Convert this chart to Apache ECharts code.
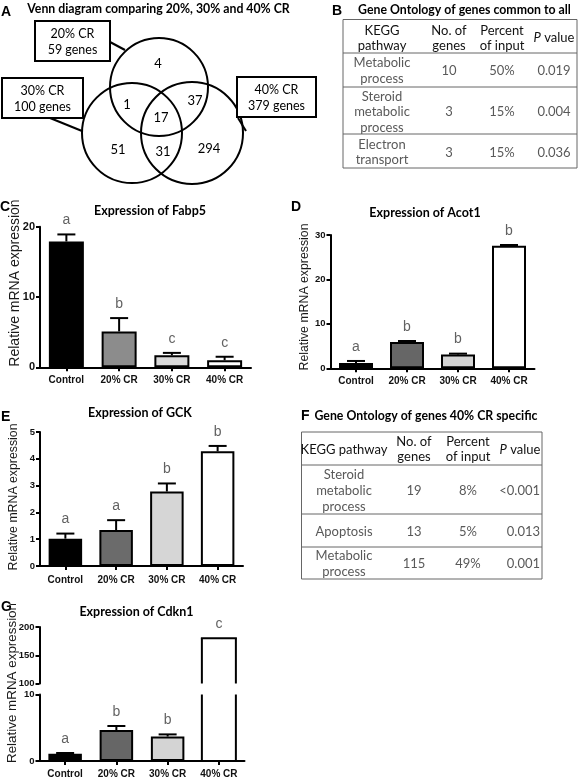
<!DOCTYPE html>
<html><head><meta charset="utf-8">
<script src="https://cdn.jsdelivr.net/npm/echarts@6/dist/echarts.min.js"></script>
<style>html,body{margin:0;padding:0;background:#fff}#c{width:578px;height:779px}</style>
</head><body><div id="c"></div>
<script>
// ---------------- DATA ----------------
const categories = ['Control', '20% CR', '30% CR', '40% CR'];

const fabp5Mean = [17.9, 5.1, 1.7, 1.0];
const fabp5Err = [1.0, 1.9, 0.35, 0.5];
const fabp5Letters = ['a', 'b', 'c', 'c'];

const acot1Mean = [1.2, 5.9, 3.1, 27.6];
const acot1Err = [0.45, 0.25, 0.2, 0.15];
const acot1Letters = ['a', 'b', 'b', 'b'];

const gckMean = [1.02, 1.34, 2.78, 4.28];
const gckErr = [0.19, 0.37, 0.3, 0.2];
const gckLetters = ['a', 'a', 'b', 'b'];

const cdkn1Mean = [1.08, 4.66, 3.68, 180];
const cdkn1Err = [0.12, 0.6, 0.32, 0];
const cdkn1Letters = ['a', 'b', 'b', 'c'];

const vennSetNames = ['20% CR', '30% CR', '40% CR'];
const vennSetTotals = [59, 100, 379];
// regions: only20, 20&30, 20&40, all, only30, 30&40, only40
const vennRegionCounts = [4, 1, 37, 17, 51, 31, 294];

const tableBTitle = 'Gene Ontology of genes common to all';
const tableBHeader = [['KEGG', 'pathway'], ['No. of', 'genes'], ['Percent', 'of input'], ['P value']];
const tableBPathways = [['Metabolic', 'process'], ['Steroid', 'metabolic', 'process'], ['Electron', 'transport']];
const tableBGenes = ['10', '3', '3'];
const tableBPercent = ['50%', '15%', '15%'];
const tableBP = ['0.019', '0.004', '0.036'];

const tableFTitle = 'Gene Ontology of genes 40% CR specific';
const tableFHeader = [['KEGG pathway'], ['No. of', 'genes'], ['Percent', 'of input'], ['P value']];
const tableFPathways = [['Steroid', 'metabolic', 'process'], ['Apoptosis'], ['Metabolic', 'process']];
const tableFGenes = ['19', '13', '115'];
const tableFPercent = ['8%', '5%', '49%'];
const tableFP = ['<0.001', '0.013', '0.001'];

// ---------------- STYLE / LAYOUT ----------------
const AR = 'Liberation Sans';
const CAL = 'Lato';
const colorsC = ['#000000', '#8c8c8c', '#d9d9d9', '#ffffff'];
const colorsD = ['#000000', '#666666', '#d4d4d4', '#ffffff'];
const colorsE = ['#000000', '#6b6b6b', '#d6d6d6', '#ffffff'];
const colorsG = ['#000000', '#666666', '#d4d4d4', '#ffffff'];

const chart = echarts.init(document.getElementById('c'), null, {renderer: 'canvas', width: 578, height: 779});

const grids = [
  {left: 40, top: 226.7, width: 211, height: 140.6},   // C
  {left: 330.5, top: 235, width: 204, height: 133.3},  // D
  {left: 40, top: 432, width: 203, height: 134},       // E
  {left: 39.5, top: 627, width: 205, height: 56.5},    // G upper
  {left: 39.5, top: 694.5, width: 205, height: 68}     // G lower
];

function xAx(gi, margin, show) {
  return {
    type: 'category', gridIndex: gi, data: categories, show: show,
    axisLine: {show: true, onZero: false, lineStyle: {color: '#000', width: 2}},
    axisTick: {show: true, alignWithLabel: true, length: 4, lineStyle: {color: '#000', width: 2}},
    axisLabel: {show: true, margin: margin, fontFamily: AR, fontWeight: 'bold', fontSize: 10, color: '#111'},
    splitLine: {show: false}
  };
}
function yAx(gi, min, max, interval, fs) {
  return {
    type: 'value', gridIndex: gi, min: min, max: max, interval: interval,
    axisLine: {show: true, lineStyle: {color: '#000', width: 2}},
    axisTick: {show: true, length: 4, lineStyle: {color: '#000', width: 2}},
    axisLabel: {margin: 5, fontFamily: AR, fontWeight: 'bold', fontSize: fs, color: '#111'},
    splitLine: {show: false}
  };
}

function barSeries(ai, means, colors, bw) {
  return {
    type: 'bar', xAxisIndex: ai, yAxisIndex: ai, barWidth: bw, silent: true,
    data: means.map((v, i) => (v === null ? '-' : {value: v, itemStyle: {color: colors[i]}})),
    itemStyle: {borderColor: '#000', borderWidth: 2}
  };
}
function errSeries(ai, means, errs, idx) {
  const data = [];
  idx.forEach(i => { if (errs[i] > 0) data.push([i, means[i], errs[i]]); });
  return {
    type: 'custom', xAxisIndex: ai, yAxisIndex: ai, silent: true, z: 3, data: data,
    renderItem: function (params, api) {
      const x = api.value(0), m = api.value(1), s = api.value(2);
      const p0 = api.coord([x, m]), p1 = api.coord([x, m + s]);
      const w = 18, st = {stroke: '#000', lineWidth: 2};
      return {type: 'group', children: [
        {type: 'line', shape: {x1: p0[0], y1: p0[1], x2: p1[0], y2: p1[1]}, style: st},
        {type: 'line', shape: {x1: p1[0] - w / 2, y1: p1[1], x2: p1[0] + w / 2, y2: p1[1]}, style: st}
      ]};
    }
  };
}
function letterSeries(ai, means, errs, letters, idx) {
  return {
    type: 'scatter', xAxisIndex: ai, yAxisIndex: ai, silent: true, z: 4,
    symbol: 'circle', symbolSize: 1, itemStyle: {color: 'rgba(0,0,0,0)'},
    data: idx.map(i => ({value: [i, means[i] + errs[i]], name: letters[i]})),
    label: {show: true, position: 'inside', offset: [0, -14], formatter: p => p.name,
      fontFamily: AR, fontSize: 14, color: '#3a3a3a'}
  };
}
function openBarSeries(ai, means, i, colors, bw) {
  return {
    type: 'custom', xAxisIndex: ai, yAxisIndex: ai, silent: true, z: 2,
    data: [[i, means[i]]],
    renderItem: function (params, api) {
      const cs = params.coordSys;
      const c0 = api.coord([api.value(0), 0]);
      const c1 = api.coord([api.value(0), api.value(1)]);
      const top = Math.max(c1[1], cs.y), bot = Math.min(c0[1], cs.y + cs.height);
      const topOpen = c1[1] < cs.y - 0.5, botOpen = c0[1] > cs.y + cs.height + 0.5;
      const x0 = c0[0] - bw / 2, x1 = c0[0] + bw / 2;
      const st = {stroke: '#000', lineWidth: 2};
      const ch = [{type: 'rect', shape: {x: x0, y: top, width: bw, height: bot - top}, style: {fill: colors[i]}}];
      ch.push({type: 'line', shape: {x1: x0, y1: top, x2: x0, y2: bot}, style: st});
      ch.push({type: 'line', shape: {x1: x1, y1: top, x2: x1, y2: bot}, style: st});
      if (!topOpen) ch.push({type: 'line', shape: {x1: x0 - 1, y1: top, x2: x1 + 1, y2: top}, style: st});
      if (!botOpen) ch.push({type: 'line', shape: {x1: x0 - 1, y1: bot, x2: x1 + 1, y2: bot}, style: st});
      return {type: 'group', children: ch};
    }
  };
}

const all4 = [0, 1, 2, 3];
const low3 = [0, 1, 2];

const series = [
  barSeries(0, fabp5Mean, colorsC, 35), errSeries(0, fabp5Mean, fabp5Err, all4), letterSeries(0, fabp5Mean, fabp5Err, fabp5Letters, all4),
  barSeries(1, acot1Mean, colorsD, 34), errSeries(1, acot1Mean, acot1Err, all4), letterSeries(1, acot1Mean, acot1Err, acot1Letters, all4),
  barSeries(2, gckMean, colorsE, 33.5), errSeries(2, gckMean, gckErr, all4), letterSeries(2, gckMean, gckErr, gckLetters, all4),
  openBarSeries(3, cdkn1Mean, 3, colorsG, 34), letterSeries(3, cdkn1Mean, cdkn1Err, cdkn1Letters, [3]),
  barSeries(4, cdkn1Mean.map((v, i) => i < 3 ? v : null), colorsG, 33.5), openBarSeries(4, cdkn1Mean, 3, colorsG, 34),
  errSeries(4, cdkn1Mean, cdkn1Err, low3), letterSeries(4, cdkn1Mean, cdkn1Err, cdkn1Letters, low3)
];

// ---------------- GRAPHIC (titles, Venn, tables) ----------------
const G = [];
function txt(x, y, text, font, fill, align, extra) {
  const o = {type: 'text', x: x, y: y, silent: true, style: Object.assign({
    text: text, font: font, fill: fill || '#000',
    align: align || 'center', verticalAlign: 'middle',
    textAlign: align || 'center', textVerticalAlign: 'middle'}, extra || {})};
  return o;
}
function ln(x1, y1, x2, y2, stroke, w) {
  return {type: 'line', silent: true, shape: {x1: x1, y1: y1, x2: x2, y2: y2}, style: {stroke: stroke || '#000', lineWidth: w || 1}};
}
function rotTxt(x, y, text, fs) {
  const t = txt(0, 0, text, fs + 'px ' + AR, '#1a1a1a');
  t.x = x; t.y = y; t.rotation = Math.PI / 2;
  return t;
}

// panel letters
const PL = 'bold 14px ' + AR;
G.push(txt(1, 12.5, 'A', PL, '#000', 'left'));
G.push(txt(332, 11, 'B', PL, '#000', 'left'));
G.push(txt(0, 207, 'C', PL, '#000', 'left'));
G.push(txt(291, 207.5, 'D', PL, '#000', 'left'));
G.push(txt(1, 417, 'E', PL, '#000', 'left'));
G.push(txt(301, 416, 'F', PL, '#000', 'left'));
G.push(txt(1, 607, 'G', PL, '#000', 'left'));

// chart titles
const TF = 'bold 12.5px ' + CAL;
G.push(txt(150, 211, 'Expression of Fabp5', TF));
G.push(txt(425, 213, 'Expression of Acot1', TF));
G.push(txt(140, 413, 'Expression of GCK', TF));
G.push(txt(136.5, 612, 'Expression of Cdkn1', TF));

// y-axis names
G.push(rotTxt(15, 283, 'Relative mRNA expression', 14));
G.push(rotTxt(305, 297, 'Relative mRNA expression', 12.3));
G.push(rotTxt(14, 497, 'Relative mRNA expression', 12.3));
G.push(rotTxt(12, 683, 'Relative mRNA expression', 13.4));

// Venn
G.push(txt(158.5, 9.5, 'Venn diagram comparing 20%, 30% and 40% CR', 'bold 12.3px ' + CAL));
const circles = [[159, 87, 49], [132, 133, 50], [192, 133, 51]];
circles.forEach(c => G.push({type: 'circle', silent: true, shape: {cx: c[0], cy: c[1], r: c[2]}, style: {fill: 'none', stroke: '#000', lineWidth: 2}}));
const regionPos = [[158, 64], [127, 105], [195, 101], [161, 118], [118, 150], [163, 152], [209, 149]];
vennRegionCounts.forEach((v, i) => G.push(txt(regionPos[i][0], regionPos[i][1], String(v), '13px ' + CAL, '#000')));
// connectors + boxes
G.push(ln(110, 42, 125, 50, '#000', 2));
G.push(ln(50, 118, 82, 131, '#000', 2));
G.push(ln(238, 118, 246, 131, '#000', 2));
const boxes = [[35, 21, 75, 40], [2, 78, 81, 40], [237, 77, 79, 40]];
boxes.forEach((b, i) => {
  G.push({type: 'rect', silent: true, shape: {x: b[0], y: b[1], width: b[2], height: b[3]}, style: {fill: '#fff', stroke: '#000', lineWidth: 2}});
  G.push(txt(b[0] + b[2] / 2, b[1] + 12.5, vennSetNames[i], '12.5px ' + CAL, '#000'));
  G.push(txt(b[0] + b[2] / 2, b[1] + 28.5, vennSetTotals[i] + ' genes', '12.5px ' + CAL, '#000'));
});

// Table helper
const TBF = '13px ' + CAL;
function pHeader(x, y, align) {
  return {type: 'text', x: x, y: y, silent: true, style: {
    text: '{i|P}{n| value}', align: align || 'center', verticalAlign: 'middle', textAlign: align || 'center', textVerticalAlign: 'middle',
    rich: {i: {fontStyle: 'italic', fontSize: 13, fontFamily: CAL, fill: '#111'}, n: {fontSize: 13, fontFamily: CAL, fill: '#111'}}}};
}
function multi(x, yc, lines, fill, lh, align) {
  const n = lines.length;
  lines.forEach((s, k) => {
    if (s === 'P value') G.push(pHeader(x, yc + (k - (n - 1) / 2) * lh, align));
    else G.push(txt(x, yc + (k - (n - 1) / 2) * lh, s, TBF, fill, align));
  });
}

// Table B
G.push(txt(464.5, 10, tableBTitle, 'bold 12.3px ' + CAL));
const bX = [343, 577], bRows = [19.5, 53, 87, 134, 168];
bRows.forEach(y => G.push(ln(bX[0], y, bX[1], y, '#666', 1)));
G.push(ln(bX[0], bRows[0], bX[0], bRows[4], '#666', 1));
G.push(ln(bX[1], bRows[0], bX[1], bRows[4], '#666', 1));
const bCols = [382, 449, 502, 554];
tableBHeader.forEach((h, c) => multi(bCols[c], 38, h, '#111', 15));
const bRowC = [71, 112, 152.5];
tableBPathways.forEach((p, r) => {
  multi(bCols[0], bRowC[r], p, '#595959', 15.5);
  G.push(txt(bCols[1], bRowC[r], tableBGenes[r], TBF, '#595959'));
  G.push(txt(bCols[2], bRowC[r], tableBPercent[r], TBF, '#595959'));
  G.push(txt(bCols[3], bRowC[r], tableBP[r], TBF, '#595959'));
});

// Table F
G.push(txt(426, 416, tableFTitle, 'bold 12.3px ' + CAL));
const fX = [301.5, 542], fRows = [432, 465, 514, 547, 579];
fRows.forEach(y => G.push(ln(fX[0], y, fX[1], y, '#666', 1)));
G.push(ln(fX[0], fRows[0], fX[0], fRows[4], '#666', 1));
G.push(ln(fX[1], fRows[0], fX[1], fRows[4], '#666', 1));
const fCols = [344, 414, 468, 520];
tableFHeader.forEach((h, c) => multi(fCols[c], 449.5, h, '#111', 15));
const fRowC = [490.5, 531.5, 564];
tableFPathways.forEach((p, r) => {
  multi(fCols[0], fRowC[r], p, '#595959', 16);
  G.push(txt(fCols[1], fRowC[r], tableFGenes[r], TBF, '#595959'));
  G.push(txt(fCols[2], fRowC[r], tableFPercent[r], TBF, '#595959'));
  G.push(txt(540, fRowC[r], tableFP[r], TBF, '#595959', 'right'));
});

chart.setOption({
  animation: false,
  backgroundColor: '#fff',
  textStyle: {fontFamily: AR},
  grid: grids,
  xAxis: [xAx(0, 8, true), xAx(1, 8, true), xAx(2, 9, true), xAx(3, 8, false), xAx(4, 8, true)],
  yAxis: [yAx(0, 0, 20, 10, 11), yAx(1, 0, 30, 10, 9.5), yAx(2, 0, 5, 1, 9.5), yAx(3, 100, 200, 50, 9.5), yAx(4, 0, 10, 10, 9.5)],
  series: series,
  graphic: {elements: G}
});
</script></body></html>
